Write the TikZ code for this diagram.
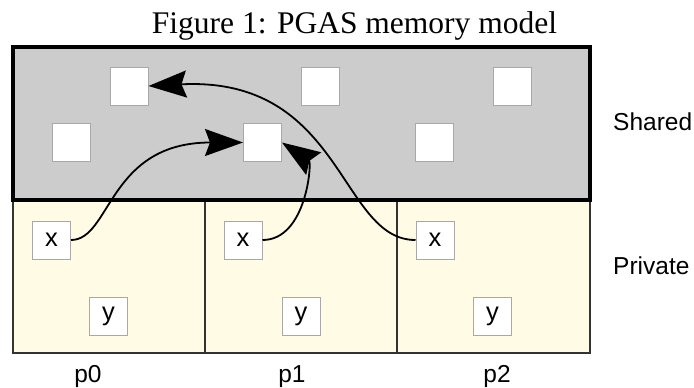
\documentclass[tikz,border=0pt]{standalone}
\usepackage{fontspec}
\setmainfont{Liberation Serif}
\setsansfont{Liberation Sans}
\usepackage{tikz}
\usetikzlibrary{arrows.meta}
\definecolor{privyellow}{RGB}{255,251,228}
\definecolor{cellgray}{RGB}{168,168,168}
\tikzset{
  cell/.style={draw=cellgray,fill=white,line width=1pt,minimum width=38pt,minimum height=38pt,inner sep=0pt,font=\sffamily\fontsize{25.5}{25.5}\selectfont},
  lbl/.style={font=\sffamily\fontsize{24.5}{24.5}\selectfont,inner sep=0pt},
  ptr/.style={-{Stealth[length=38pt,width=27pt,inset=5pt]},line width=1.8pt}
}

\begin{document}
\begin{tikzpicture}[x=1pt,y=-1pt]
\useasboundingbox (0,0) rectangle (694,388);
\node[font=\fontsize{31.5}{31.5}\selectfont,anchor=base,inner sep=0pt] (title) at (354.5,33) {Figure 1: PGAS memory model};
\draw[fill=privyellow,draw=black!80,line width=1.5pt]
(13,200)rectangle(205,353) (205,200)rectangle(397,353) (397,200)rectangle(590,353);
\draw[fill=black!20,line width=3.5pt](13,47)rectangle(590,200);
\node[cell] (a1) at (129,86) {};
\node[cell] (a2) at (320,86) {};
\node[cell] (a3) at (512,86) {};
\node[cell] (b1) at (71,142.5) {};
\node[cell] (b2) at (262.5,142.5) {};
\node[cell] (b3) at (434.5,142.5) {};
\node[cell] (x0) at (51.5,240) {x};
\node[cell] (x1) at (243,240) {x};
\node[cell] (x2) at (435,240) {x};
\node[cell] (y0) at (108.5,316.5) {y};
\node[cell] (y1) at (301,316.5) {y};
\node[cell] (y2) at (492.5,316.5) {y};
\node[lbl,anchor=base west] (shared) at (613,130) {Shared};
\node[lbl,anchor=base west] (private) at (613,274) {Private};
\node[lbl,anchor=base] (p0) at (88,382) {p0};
\node[lbl,anchor=base] (p1) at (292,382) {p1};
\node[lbl,anchor=base] (p2) at (497,382) {p2};
\draw[ptr](x0.east)..controls +(40,0) and +(-135,0)..(b2.west);
\draw[ptr](x1.east)..controls +(44,0) and +(30,20)..(b2.east);
\draw[ptr](x2.west)..controls +(-76,0) and +(195,-10)..(a1.east);
\end{tikzpicture}
\end{document}
